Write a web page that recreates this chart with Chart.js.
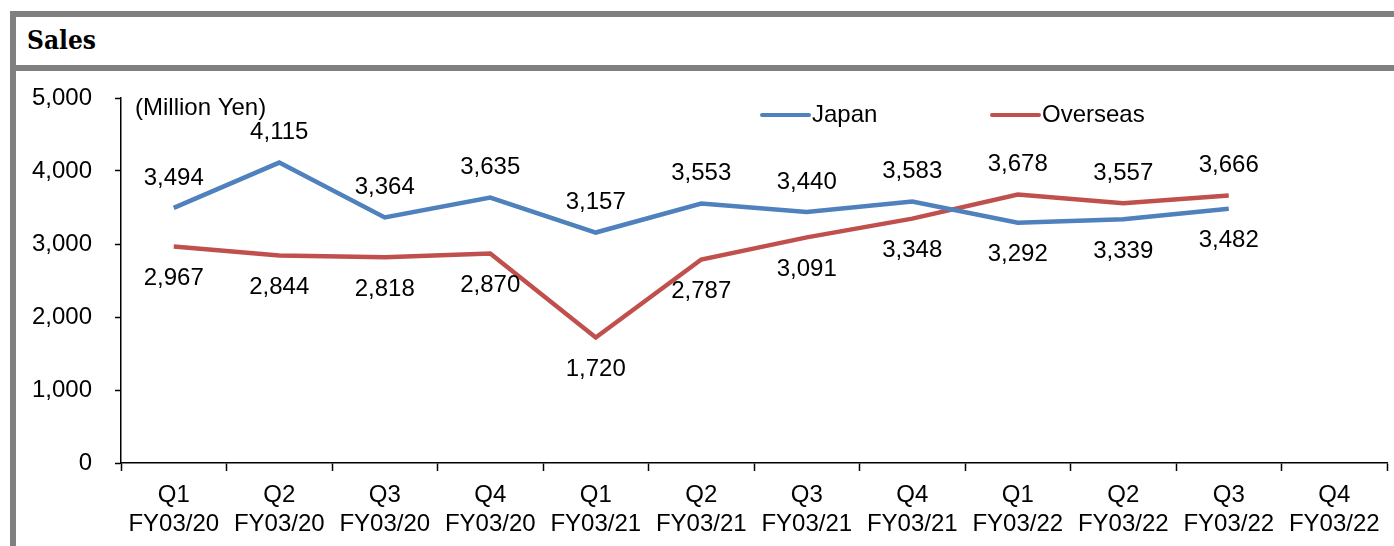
<!DOCTYPE html>
<html>
<head>
<meta charset="utf-8">
<script src="https://cdn.jsdelivr.net/npm/chart.js@4/dist/chart.umd.min.js"></script>
<style>
    body { margin: 0; background: #fff; width: 1394px; height: 546px; overflow: hidden; position: relative; }
    .marco-top { position: absolute; left: 10px; top: 11px; width: 1384px; height: 6px; background: #808080; }
    .marco-izq { position: absolute; left: 10px; top: 11px; width: 6px; height: 535px; background: #808080; }
    .marco-sep { position: absolute; left: 10px; top: 65px; width: 1384px; height: 6px; background: #808080; }
    .titulo { position: absolute; left: 27px; top: 27px; line-height: 1; font-family: "DejaVu Serif Condensed", "DejaVu Serif", serif; font-weight: bold; font-size: 26px; color: #000; }
    .contenedor { position: absolute; left: 16px; top: 71px; width: 1378px; height: 475px; }
</style>
</head>
<body>
<div class="marco-top"></div>
<div class="marco-izq"></div>
<div class="marco-sep"></div>
<div class="titulo">Sales</div>
<div class="contenedor"><canvas id="ventas" width="1378" height="475"></canvas></div>

<script>
// Datos
const trimestres = ['Q1', 'Q2', 'Q3', 'Q4', 'Q1', 'Q2', 'Q3', 'Q4', 'Q1', 'Q2', 'Q3', 'Q4'];
const ejercicios = ['FY03/20', 'FY03/20', 'FY03/20', 'FY03/20', 'FY03/21', 'FY03/21', 'FY03/21', 'FY03/21', 'FY03/22', 'FY03/22', 'FY03/22', 'FY03/22'];
const japon = [3494, 4115, 3364, 3635, 3157, 3553, 3440, 3583, 3292, 3339, 3482, null];
const extranjero = [2967, 2844, 2818, 2870, 1720, 2787, 3091, 3348, 3678, 3557, 3666, null];
const ticksY = [0, 1000, 2000, 3000, 4000, 5000];

const fuente = '"Liberation Sans", Arial, sans-serif';

document.addEventListener('DOMContentLoaded', function() {
    graficarVentas();
});

function formatear(v) {
    return v.toLocaleString('en-US');
}

// Etiquetas de datos encima o debajo segun cual serie es mayor
const etiquetasDatos = {
    id: 'etiquetasDatos',
    afterDatasetsDraw(chart) {
        const ctx = chart.ctx;
        const series = chart.data.datasets;
        ctx.save();
        ctx.font = '24px ' + fuente;
        ctx.fillStyle = '#000';
        ctx.textAlign = 'center';
        ctx.textBaseline = 'middle';
        series.forEach((ds, i) => {
            const meta = chart.getDatasetMeta(i);
            const otro = series[1 - i].data;
            ds.data.forEach((v, j) => {
                if (v === null) return;
                const p = meta.data[j];
                const arriba = v >= otro[j];
                ctx.fillText(formatear(v), p.x, arriba ? p.y - 30 : p.y + 32);
            });
        });
        ctx.restore();
    }
};

// Leyenda y unidad dibujadas dentro del area
const leyenda = {
    id: 'leyenda',
    afterDraw(chart) {
        const ctx = chart.ctx;
        const area = chart.chartArea;
        ctx.save();
        ctx.font = '24px ' + fuente;
        ctx.fillStyle = '#000';
        ctx.textBaseline = 'middle';
        ctx.fillText('(Million Yen)', area.left + 14, area.top + 10);

        const inicios = [area.left + 641, area.left + 871];
        chart.data.datasets.forEach((ds, i) => {
            const x = inicios[i];
            const y = area.top + 17;
            ctx.strokeStyle = ds.borderColor;
            ctx.lineWidth = 4;
            ctx.lineCap = 'round';
            ctx.beginPath();
            ctx.moveTo(x, y);
            ctx.lineTo(x + 47, y);
            ctx.stroke();
            ctx.fillText(ds.label, x + 50, y);
        });
        ctx.restore();
    }
};

function graficarVentas() {
    const ctx = document.getElementById('ventas').getContext('2d');
    const etiquetas = trimestres.map((q, i) => [q, ejercicios[i]]);

    let myChart = new Chart(ctx, {
        type: 'line',
        data: {
            labels: etiquetas,
            datasets: [{
                label: 'Japan',
                data: japon,
                borderColor: '#4F81BD',
                borderWidth: 4.5,
                tension: 0,
                pointRadius: 0
            }, {
                label: 'Overseas',
                data: extranjero,
                borderColor: '#C0504D',
                borderWidth: 4.5,
                tension: 0,
                pointRadius: 0
            }]
        },
        options: {
            responsive: false,
            animation: false,
            layout: {
                padding: { top: 27, right: 7, left: 0, bottom: 0 }
            },
            plugins: {
                legend: { display: false },
                tooltip: { enabled: false }
            },
            scales: {
                x: {
                    offset: true,
                    grid: {
                        offset: true,
                        drawOnChartArea: false,
                        color: '#000',
                        tickLength: 8,
                        tickWidth: 1.5
                    },
                    border: { color: '#000', width: 1.5 },
                    ticks: {
                        color: '#000',
                        font: { family: fuente, size: 24, lineHeight: 1.2 },
                        padding: 10,
                        maxRotation: 0,
                        autoSkip: false
                    },
                    afterFit(scale) { scale.height = 83; }
                },
                y: {
                    min: 0,
                    max: 5000,
                    afterBuildTicks(scale) {
                        scale.ticks = ticksY.map(v => ({ value: v }));
                    },
                    grid: {
                        drawOnChartArea: false,
                        color: '#000',
                        tickLength: 6,
                        tickWidth: 1.5
                    },
                    border: { color: '#000', width: 1.5 },
                    ticks: {
                        color: '#000',
                        font: { family: fuente, size: 24 },
                        padding: 23,
                        callback: v => formatear(v)
                    },
                    afterFit(scale) {
                        scale.width = 105;
                        scale.paddingTop = 0;
                        scale.paddingBottom = 0;
                    }
                }
            }
        },
        plugins: [etiquetasDatos, leyenda]
    });
}
</script>
</body>
</html>
